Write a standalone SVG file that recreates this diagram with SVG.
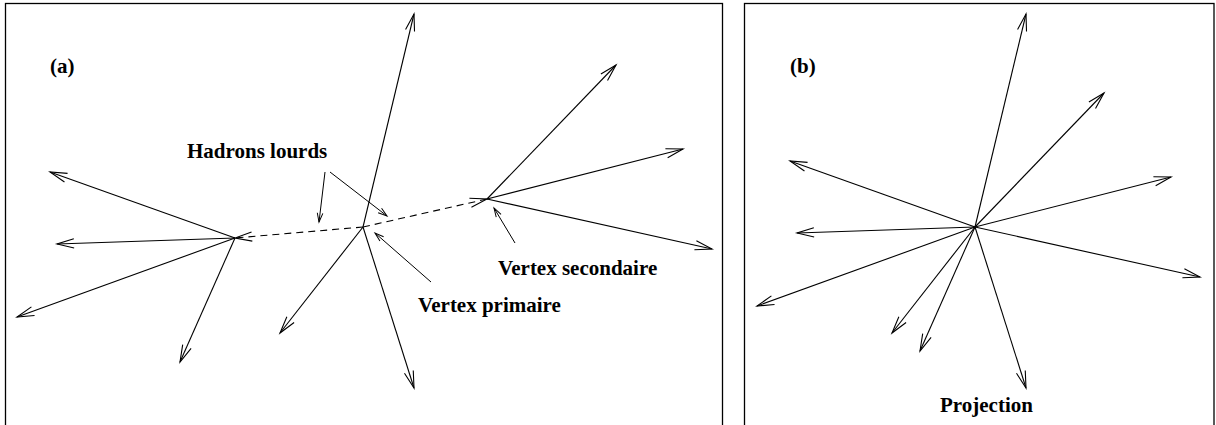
<svg xmlns="http://www.w3.org/2000/svg" width="1216" height="425" viewBox="0 0 1216 425">
<style>
.frame{fill:none;stroke:#000;stroke-width:1.3}
.trk{fill:none;stroke:#000;stroke-width:1.1;marker-end:url(#ah)}
.dash{fill:none;stroke:#000;stroke-width:1.1;stroke-dasharray:7,5;marker-end:url(#ah)}
.lab{fill:none;stroke:#000;stroke-width:1;marker-end:url(#sh)}
text{font-family:"Liberation Serif","Times New Roman",serif;font-weight:bold;font-size:21px;fill:#000}
</style>
<defs>
<marker id="ah" markerUnits="userSpaceOnUse" viewBox="-18 -6 20 12" refX="0" refY="0" markerWidth="20" markerHeight="12" orient="auto" overflow="visible">
<path d="M-17,-4.6 L0,0 L-17,4.6" fill="none" stroke="#000" stroke-width="1.1"/>
</marker>
<marker id="sh" markerUnits="userSpaceOnUse" viewBox="-10 -4 12 8" refX="0" refY="0" markerWidth="12" markerHeight="8" orient="auto" overflow="visible">
<path d="M-9,-2.8 L0,0 L-9,2.8" fill="none" stroke="#000" stroke-width="1"/>
</marker>
</defs>
<rect class="frame" x="5.5" y="3.5" width="717" height="440"/>
<rect class="frame" x="744.5" y="3.5" width="469.5" height="440"/>
<g id="panel-a">
<text id="label-a" x="50" y="73">(a)</text>
<g id="vertex-left">
<line class="trk" x1="235" y1="238" x2="50" y2="172"/>
<line class="trk" x1="235" y1="238" x2="57" y2="244"/>
<line class="trk" x1="235" y1="238" x2="17" y2="317"/>
<line class="trk" x1="235" y1="238" x2="180" y2="362"/>
</g>
<g id="vertex-primary">
<line class="trk" x1="363" y1="227" x2="414" y2="14"/>
<line class="trk" x1="363" y1="227" x2="280" y2="333"/>
<line class="trk" x1="363" y1="227" x2="414" y2="388"/>
</g>
<g id="vertex-secondary">
<line class="trk" x1="487" y1="199" x2="616" y2="65"/>
<line class="trk" x1="487" y1="199" x2="683" y2="149"/>
<line class="trk" x1="487" y1="199" x2="712" y2="249"/>
</g>
<g id="heavy-hadrons">
<line class="dash" x1="363" y1="227" x2="235" y2="238"/>
<line class="dash" x1="363" y1="227" x2="487" y2="199"/>
</g>
<g id="label-hadrons">
<text x="187" y="158">Hadrons lourds</text>
<line class="lab" x1="325" y1="172" x2="319" y2="222"/>
<line class="lab" x1="330" y1="172" x2="387" y2="216"/>
</g>
<g id="label-primary">
<text x="418" y="312">Vertex primaire</text>
<line class="lab" x1="431" y1="282" x2="375" y2="233"/>
</g>
<g id="label-secondary">
<text x="498" y="275">Vertex secondaire</text>
<line class="lab" x1="515" y1="243" x2="494" y2="208"/>
</g>
</g>
<g id="panel-b">
<text id="label-b" x="790" y="73">(b)</text>
<g id="projection-tracks">
<line class="trk" x1="975" y1="227" x2="790" y2="161"/>
<line class="trk" x1="975" y1="227" x2="797" y2="233"/>
<line class="trk" x1="975" y1="227" x2="757" y2="306"/>
<line class="trk" x1="975" y1="227" x2="920" y2="351"/>
<line class="trk" x1="975" y1="227" x2="1026" y2="14"/>
<line class="trk" x1="975" y1="227" x2="892" y2="333"/>
<line class="trk" x1="975" y1="227" x2="1026" y2="388"/>
<line class="trk" x1="975" y1="227" x2="1104" y2="93"/>
<line class="trk" x1="975" y1="227" x2="1171" y2="177"/>
<line class="trk" x1="975" y1="227" x2="1200" y2="277"/>
</g>
<text id="label-projection" x="940" y="412">Projection</text>
</g>
</svg>
